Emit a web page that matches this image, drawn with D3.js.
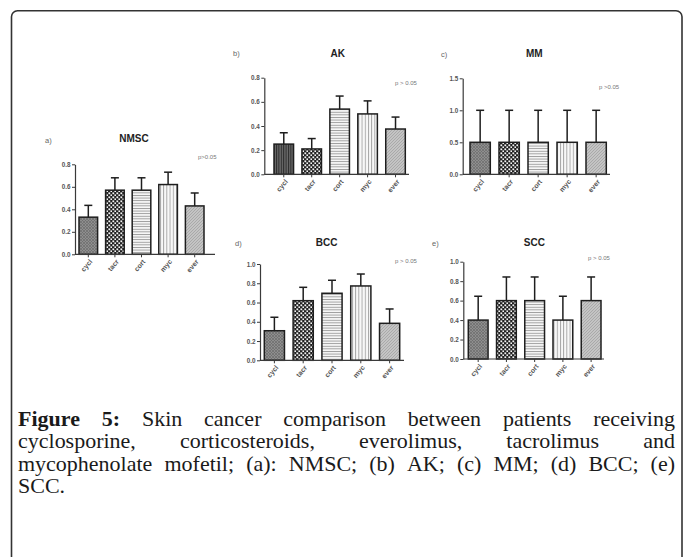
<!DOCTYPE html>
<html>
<head>
<meta charset="utf-8">
<script src="https://cdn.jsdelivr.net/npm/d3@7"></script>
<style>
  html, body { margin: 0; padding: 0; background: #fff; }
  svg { display: block; }
</style>
</head>
<body>
<svg id="chart" width="683" height="557"></svg>
<script>
// ---------------- DATA ----------------
const categories = ["cycl", "tacr", "cort", "myc", "ever"];

const nmscMeans = [0.33, 0.57, 0.57, 0.62, 0.43];
const nmscSem   = [0.105, 0.11, 0.11, 0.11, 0.115];
const nmscTicks = [0.0, 0.2, 0.4, 0.6, 0.8];

const akMeans = [0.25, 0.21, 0.54, 0.50, 0.375];
const akSem   = [0.094, 0.086, 0.108, 0.108, 0.099];
const akTicks = [0.0, 0.2, 0.4, 0.6, 0.8];

const mmMeans = [0.5, 0.5, 0.5, 0.5, 0.5];
const mmSem   = [0.5, 0.5, 0.5, 0.5, 0.5];
const mmTicks = [0.0, 0.5, 1.0, 1.5];

const bccMeans = [0.307, 0.619, 0.696, 0.772, 0.384];
const bccSem   = [0.14, 0.139, 0.135, 0.124, 0.149];
const bccTicks = [0.0, 0.2, 0.4, 0.6, 0.8, 1.0];

const sccMeans = [0.4, 0.6, 0.6, 0.4, 0.6];
const sccSem   = [0.245, 0.243, 0.243, 0.245, 0.243];
const sccTicks = [0.0, 0.2, 0.4, 0.6, 0.8, 1.0];

const panelTitles  = ["NMSC", "AK", "MM", "BCC", "SCC"];
const panelLetters = ["a)", "b)", "c)", "d)", "e)"];
const pTexts       = ["p>0.05", "p > 0.05", "p >0.05", "p > 0.05", "p > 0.05"];

const captionLines = [
  "Skin cancer comparison between patients receiving",
  "cyclosporine, corticosteroids, everolimus, tacrolimus and",
  "mycophenolate mofetil; (a): NMSC; (b) AK; (c) MM; (d) BCC; (e)",
  "SCC."
];

// ---------------- LAYOUT (positions / styles) ----------------
const layouts = [
  { ax: 75,    y0: 254.3, yTop: 164.3, bx0: 79,    bx1: 204,   axEnd: 215, title: [134, 142], letter: [45, 143], p: [198, 159], darkCycl: false },
  { ax: 264.3, y0: 174.3, yTop: 77.7,  bx0: 274,   bx1: 405.3, axEnd: 409, title: [337.7, 57], letter: [233, 56], p: [395, 85], darkCycl: true },
  { ax: 462.7, y0: 174.3, yTop: 78.3,  bx0: 470,   bx1: 606.3, axEnd: 610, title: [534.3, 57], letter: [441, 57], p: [599, 89], darkCycl: false },
  { ax: 260,   y0: 360.3, yTop: 264,   bx0: 264.3, bx1: 399.7, axEnd: 404, title: [326.7, 245.5], letter: [235, 246], p: [395, 263], darkCycl: false },
  { ax: 463.3, y0: 359,   yTop: 261.7, bx0: 468.3, bx1: 601,   axEnd: 604, title: [534.3, 245.5], letter: [432, 246], p: [588, 260], darkCycl: false }
];

const panelData = [
  { means: nmscMeans, sem: nmscSem, ticks: nmscTicks },
  { means: akMeans,   sem: akSem,   ticks: akTicks },
  { means: mmMeans,   sem: mmSem,   ticks: mmTicks },
  { means: bccMeans,  sem: bccSem,  ticks: bccTicks },
  { means: sccMeans,  sem: sccSem,  ticks: sccTicks }
];

const svg = d3.select("#chart");

// Frame
svg.append("rect")
  .attr("x", 11.5).attr("y", 10.8)
  .attr("width", 670.5).attr("height", 600)
  .attr("rx", 6).attr("ry", 6)
  .attr("fill", "none").attr("stroke", "#333").attr("stroke-width", 1.6);

// ---------------- PATTERNS ----------------
const defs = svg.append("defs");
function pattern(id, w, h, draw) {
  const p = defs.append("pattern").attr("id", id)
    .attr("patternUnits", "userSpaceOnUse").attr("width", w).attr("height", h);
  draw(p);
}
pattern("p-cycl", 3, 3, p => {
  p.append("rect").attr("width", 3).attr("height", 3).attr("fill", "#8e8e8e");
  p.append("path").attr("d", "M0,0L3,3M3,0L0,3").attr("stroke", "#6c6c6c").attr("stroke-width", 0.7);
});
pattern("p-cyclDark", 2.4, 3, p => {
  p.append("rect").attr("width", 2.4).attr("height", 3).attr("fill", "#6a6a6a");
  p.append("rect").attr("x", 0).attr("width", 1).attr("height", 3).attr("fill", "#2a2a2a");
});
pattern("p-tacr", 4, 4, p => {
  p.append("rect").attr("width", 4).attr("height", 4).attr("fill", "#222");
  p.append("rect").attr("x", 0.4).attr("y", 0.4).attr("width", 1.8).attr("height", 1.8).attr("fill", "#f4f4f4");
  p.append("rect").attr("x", 2.4).attr("y", 2.4).attr("width", 1.8).attr("height", 1.8).attr("fill", "#f4f4f4");
});
pattern("p-cort", 3, 2.6, p => {
  p.append("rect").attr("width", 3).attr("height", 2.6).attr("fill", "#f6f6f6");
  p.append("rect").attr("y", 0).attr("width", 3).attr("height", 0.9).attr("fill", "#9a9a9a");
});
pattern("p-myc", 3.2, 3, p => {
  p.append("rect").attr("width", 3.2).attr("height", 3).attr("fill", "#f8f8f8");
  p.append("rect").attr("x", 0).attr("width", 0.9).attr("height", 3).attr("fill", "#a0a0a0");
});
pattern("p-ever", 3, 3, p => {
  p.append("rect").attr("width", 3).attr("height", 3).attr("fill", "#c4c4c4");
  p.append("path").attr("d", "M0,3L3,0M-1,1L1,-1M2,4L4,2").attr("stroke", "#a2a2a2").attr("stroke-width", 0.8);
});

// ---------------- PANELS ----------------
const fontSans = "'Liberation Sans', Arial, sans-serif";

panelData.forEach((pd, i) => {
  const L = layouts[i];
  const g = svg.append("g");
  const yMax = pd.ticks[pd.ticks.length - 1];
  const y = d3.scaleLinear().domain([0, yMax]).range([L.y0, L.yTop]);
  const x = d3.scaleBand().domain(categories).range([L.bx0, L.bx1]).paddingInner(0.3).paddingOuter(0);

  const rows = categories.map((c, k) => ({ cat: c, mean: pd.means[k], sem: pd.sem[k] }));

  // error bars (behind bars)
  const eb = g.append("g").attr("stroke", "#1e1e1e").attr("stroke-width", 1.5).attr("fill", "none");
  rows.forEach(r => {
    const cx = x(r.cat) + x.bandwidth() / 2;
    eb.append("line").attr("x1", cx).attr("x2", cx).attr("y1", y(r.mean)).attr("y2", y(r.mean + r.sem));
    eb.append("line").attr("x1", cx - 4).attr("x2", cx + 4).attr("y1", y(r.mean + r.sem)).attr("y2", y(r.mean + r.sem));
  });

  // bars
  g.append("g").selectAll("rect").data(rows).join("rect")
    .attr("x", d => x(d.cat))
    .attr("y", d => y(d.mean))
    .attr("width", x.bandwidth())
    .attr("height", d => y(0) - y(d.mean))
    .attr("fill", d => d.cat === "cycl" && L.darkCycl ? "url(#p-cyclDark)" : `url(#p-${d.cat})`)
    .attr("stroke", "#1e1e1e").attr("stroke-width", 1.5);

  // y axis
  const yAxis = d3.axisLeft(y).tickValues(pd.ticks).tickFormat(d3.format(".1f")).tickSizeInner(3).tickSizeOuter(0).tickPadding(1.5);
  const ya = g.append("g").attr("transform", `translate(${L.ax},0)`).call(yAxis);
  ya.select(".domain").attr("stroke", "#3a3a3a").attr("stroke-width", 1.2);
  ya.selectAll(".tick line").attr("stroke", "#3a3a3a").attr("stroke-width", 1);
  ya.selectAll(".tick text").attr("font-family", fontSans).attr("font-size", 6.3).attr("font-weight", "bold").attr("fill", "#555");

  // x axis
  g.append("line").attr("x1", L.ax).attr("x2", L.axEnd).attr("y1", L.y0).attr("y2", L.y0)
    .attr("stroke", "#3a3a3a").attr("stroke-width", 1.2);
  const xt = g.append("g").selectAll("g").data(categories).join("g")
    .attr("transform", d => `translate(${x(d) + x.bandwidth() / 2},${L.y0})`);
  xt.append("line").attr("y1", 0).attr("y2", 3).attr("stroke", "#3a3a3a").attr("stroke-width", 1);
  xt.append("text")
    .attr("transform", "translate(2.5,6) rotate(-50)")
    .attr("text-anchor", "end")
    .attr("dy", "0.35em")
    .attr("font-family", fontSans).attr("font-size", 7).attr("font-weight", "bold").attr("fill", "#555")
    .text(d => d);

  // title
  g.append("text").attr("x", L.title[0]).attr("y", L.title[1])
    .attr("text-anchor", "middle").attr("font-family", fontSans).attr("font-weight", "bold")
    .attr("font-size", 10).attr("fill", "#222").text(panelTitles[i]);
  // letter
  g.append("text").attr("x", L.letter[0]).attr("y", L.letter[1])
    .attr("font-family", fontSans).attr("font-size", 7.5).attr("fill", "#666").text(panelLetters[i]);
  // p value
  g.append("text").attr("x", L.p[0]).attr("y", L.p[1])
    .attr("font-family", fontSans).attr("font-size", 6).attr("fill", "#777").text(pTexts[i]);
});

// ---------------- CAPTION (justified) ----------------
const capX0 = 18, capX1 = 675;
const capY = [426, 448.3, 470.6, 492.9];
const serif = "'Liberation Serif', 'Times New Roman', serif";
const cap = svg.append("g").attr("font-family", serif).attr("font-size", 20).attr("fill", "#1a1a1a");
const stretch = 1.1;

captionLines.forEach((line, li) => {
  let words = line.split(" ").map(w => ({ text: w, bold: false }));
  if (li === 0) words = [{ text: "Figure", bold: true }, { text: "5:", bold: true }].concat(words);
  const els = words.map(w => cap.append("text")
    .attr("font-weight", w.bold ? "bold" : "normal").text(w.text));
  const raw = els.map(e => e.node().getComputedTextLength());
  const justify = li < captionLines.length - 1;
  const n = words.length;
  let sx = stretch;
  if (justify && n > 1) {
    const maxSx = (capX1 - capX0 - 4.5 * (n - 1)) / d3.sum(raw);
    sx = Math.min(stretch, maxSx);
  }
  const widths = raw.map(w => w * sx);
  const total = d3.sum(widths);
  const gap = justify && n > 1 ? (capX1 - capX0 - total) / (n - 1) : 5.2;
  let xx = capX0;
  els.forEach((e, k) => {
    e.attr("transform", `translate(${xx},${capY[li]}) scale(${sx},1)`);
    xx += widths[k] + gap;
  });
});
</script>
</body>
</html>
